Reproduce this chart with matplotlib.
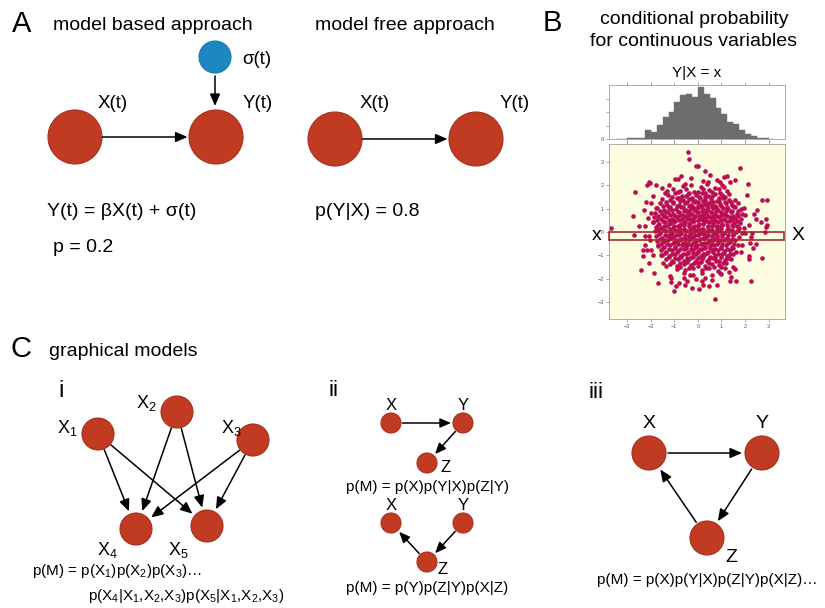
import matplotlib
matplotlib.use('Agg')
import matplotlib.pyplot as plt
from matplotlib.patches import Circle, Rectangle
import numpy as np

plt.rcParams['font.family'] = ['Liberation Sans', 'DejaVu Sans']
plt.rcParams['mathtext.fontset'] = 'custom'
plt.rcParams['mathtext.rm'] = 'Liberation Sans'
plt.rcParams['mathtext.it'] = 'Liberation Sans:italic'
plt.rcParams['mathtext.bf'] = 'Liberation Sans:bold'

# ---------------- data ----------------
# histogram (panel B): left bin edges and bar heights
hist_left = [-3.5, -3.25, -3.0, -2.75, -2.5, -2.25, -2.0, -1.75, -1.5, -1.25, -1.0,
             -0.75, -0.5, -0.25, 0.0, 0.25, 0.5, 0.75, 1.0, 1.25, 1.5, 1.75, 2.0,
             2.25, 2.5, 2.75, 3.0]
hist_height = [1, 1, 2, 3, 4, 27, 22, 42, 64, 79, 109, 129, 134, 125, 155, 134, 122,
               92, 74, 50, 45, 27, 15, 9, 2, 4, 1]
hist_bin_width = 0.25

# scatter (panel B): outer points
outer_x = [-0.44, -0.39, -0.09, 0.00, -0.74, -0.84, -2.66, -2.09, -2.02, -2.18, -1.80,
           -1.52, -1.23, -0.99, -1.42, -1.32, -2.20, -1.99, -1.77, -2.78, -2.49, -3.70,
           -2.27, -2.13, -1.92, 1.80, 1.23, 1.09, 0.80, 0.94, 1.37, 1.56, 2.13, 0.44,
           2.73, 2.95, 2.52, 2.37, 2.45, 1.94, 2.02, 2.16, 2.88, 2.88, 2.70, 2.95,
           -2.70, -2.23, -2.06, -2.27, -2.35, -2.18, -1.99, -1.92, -2.09, -2.35,
           -2.42, -1.85, -1.70, -1.20, -1.13, -0.94, -0.80, -1.03, -0.56, -0.46, -0.27,
           -1.49, -1.34, -1.56, -1.70, 0.73, 0.80, 0.61, 0.16, 0.23, 0.30, 0.99, 1.37,
           1.42, 1.62, 2.27, 1.30, 1.59, 1.47, 2.19, 2.16, 2.33, 2.45, 2.23, 2.02, 2.30,
           2.85, 1.85, 1.30, 1.87, 2.73, -0.30, 0.20, 0.50, -0.55, 0.30, -0.60, -0.10,
           0.45, -0.35, 0.05, -1.90, -2.30, -2.00, -2.05, 2.10, 2.25, -1.15, 1.10]
outer_y = [3.42, 3.15, 2.83, 2.83, 2.42, 2.28, 1.72, 2.14, 2.11, 2.00, 2.04,
           1.90, 2.04, 2.28, 1.68, 1.75, 1.30, 1.25, 1.04, 0.68, 0.28, 0.18,
           0.24, 0.61, 0.42, 2.75, 2.42, 2.37, 2.22, 2.14, 2.14, 2.25, 2.08, 2.14,
           1.39, 1.39, 0.94, 0.79, 0.57, 1.04, 0.75, 0.32, 0.22, 0.57, 0.42, 0.32,
           -0.11, -0.18, -0.15, -0.54, -0.75, -0.78, -0.78, -0.97, -1.32, -1.04,
           -1.61, -1.75, -2.18, -1.90, -1.97, -2.33, -2.18, -2.51, -2.25, -2.11, -2.40,
           -1.32, -1.47, -0.97, -0.61, -2.87, -2.25, -2.07, -2.11, -2.25, -1.97, -1.82, -2.11,
           -1.92, -2.11, -2.11, -1.72, -1.58, -1.49, -1.15, -1.04, -0.68, -0.49, -0.46, -0.04, -0.06,
           -0.01, -0.87, -1.11, -0.54, -1.11, 2.30, 2.20, 2.45, 2.05, 2.60, -1.95, -2.00,
           -2.30, -1.85, -2.45, 1.55, 0.95, 0.80, -0.35, 1.60, -0.20, -2.15, 1.95]

# scatter (panel B): dense core, read row by row
core_x = [
    -0.62, -0.28, 0.12, 0.38, 0.71, 1.02,
    -1.08, -0.77, -0.52, -0.18, 0.21, 0.47, 0.88, 1.22,
    -1.27, -0.98, -0.69, -0.41, -0.08, 0.17, 0.42, 0.73, 1.01, 1.33,
    -1.52, -1.19, -0.91, -0.63, -0.37, -0.12, 0.09, 0.31, 0.56, 0.79, 1.07, 1.31, 1.57,
    -1.63, -1.31, -1.04, -0.82, -0.56, -0.29, -0.11, 0.12, 0.29, 0.52, 0.71, 0.94, 1.21, 1.44, 1.72,
    -1.72, -1.43, -1.21, -0.94, -0.71, -0.49, -0.31, -0.09, 0.06, 0.26, 0.44, 0.66, 0.84, 1.06, 1.29, 1.56, 1.81,
    -1.81, -1.54, -1.29, -1.06, -0.84, -0.66, -0.44, -0.24, -0.06, 0.16, 0.34, 0.56, 0.74, 0.96, 1.14, 1.41, 1.64, 1.86,
    -1.86, -1.59, -1.36, -1.09, -0.91, -0.69, -0.51, -0.29, -0.11, 0.11, 0.29, 0.51, 0.69, 0.91, 1.09, 1.36, 1.59, 1.84,
    -1.91, -1.64, -1.41, -1.14, -0.96, -0.74, -0.56, -0.34, -0.16, 0.06, 0.24, 0.46, 0.64, 0.86, 1.04, 1.31, 1.54, 1.79,
    -1.79, -1.56, -1.31, -1.04, -0.86, -0.61, -0.39, -0.21, 0.01, 0.19, 0.41, 0.59, 0.81, 0.99, 1.26, 1.49, 1.76, 1.96,
    -1.84, -1.61, -1.34, -1.11, -0.89, -0.71, -0.49, -0.31, -0.09, 0.11, 0.31, 0.49, 0.71, 0.89, 1.11, 1.34, 1.61, 1.86,
    -1.78, -1.54, -1.29, -1.06, -0.79, -0.61, -0.39, -0.19, 0.01, 0.21, 0.39, 0.61, 0.79, 1.01, 1.24, 1.51, 1.74,
    -1.74, -1.49, -1.26, -0.99, -0.81, -0.54, -0.36, -0.14, 0.06, 0.24, 0.46, 0.64, 0.86, 1.09, 1.36, 1.59,
    -1.69, -1.46, -1.19, -0.96, -0.69, -0.51, -0.29, -0.11, 0.11, 0.29, 0.51, 0.69, 0.96, 1.19, 1.46, 1.69,
    -1.59, -1.36, -1.09, -0.86, -0.59, -0.41, -0.19, 0.01, 0.19, 0.41, 0.59, 0.86, 1.09, 1.36, 1.61,
    -1.51, -1.24, -0.99, -0.76, -0.49, -0.31, -0.09, 0.11, 0.29, 0.51, 0.74, 1.01, 1.24, 1.49,
    -1.36, -1.09, -0.86, -0.59, -0.36, -0.09, 0.16, 0.39, 0.66, 0.89, 1.16, 1.41,
    -1.19, -0.91, -0.59, -0.31, 0.01, 0.29, 0.61, 0.89, 1.21,
    -0.89, -0.56, -0.19, 0.16, 0.49, 0.86, 1.14,
    -0.61, -0.21, 0.19, 0.61, 0.94,
]
core_y = [
    1.96, 2.04, 1.93, 2.07, 1.91, 2.01,
    1.83, 1.76, 1.87, 1.74, 1.84, 1.79, 1.86, 1.75,
    1.61, 1.66, 1.55, 1.64, 1.57, 1.67, 1.54, 1.63, 1.58, 1.65,
    1.43, 1.36, 1.46, 1.37, 1.44, 1.35, 1.45, 1.38, 1.42, 1.34, 1.47, 1.39, 1.36,
    1.23, 1.17, 1.26, 1.15, 1.24, 1.18, 1.27, 1.16, 1.22, 1.25, 1.14, 1.21, 1.24, 1.17, 1.26,
    1.03, 0.96, 1.05, 0.98, 1.06, 0.95, 1.04, 0.97, 1.07, 0.94, 1.02, 1.05, 0.96, 1.04, 0.97, 1.06, 0.99,
    0.83, 0.76, 0.85, 0.77, 0.86, 0.75, 0.84, 0.78, 0.87, 0.74, 0.82, 0.85, 0.77, 0.84, 0.76, 0.86, 0.79, 0.78,
    0.63, 0.56, 0.65, 0.57, 0.66, 0.55, 0.64, 0.58, 0.67, 0.54, 0.62, 0.65, 0.57, 0.64, 0.56, 0.66, 0.59, 0.58,
    0.43, 0.36, 0.45, 0.37, 0.46, 0.35, 0.44, 0.38, 0.47, 0.34, 0.42, 0.45, 0.37, 0.44, 0.36, 0.46, 0.39, 0.38,
    0.23, 0.16, 0.25, 0.17, 0.26, 0.15, 0.24, 0.18, 0.27, 0.14, 0.22, 0.25, 0.17, 0.24, 0.16, 0.26, 0.19, 0.18,
    0.03, -0.04, 0.05, -0.03, 0.06, -0.05, 0.04, -0.02, 0.07, -0.06, 0.02, 0.05, -0.03, 0.04, -0.04, 0.06, -0.01, -0.02,
    -0.17, -0.24, -0.15, -0.23, -0.14, -0.25, -0.16, -0.22, -0.13, -0.26, -0.18, -0.15, -0.23, -0.16, -0.24, -0.14, -0.21,
    -0.37, -0.44, -0.35, -0.43, -0.34, -0.45, -0.36, -0.42, -0.33, -0.46, -0.38, -0.35, -0.43, -0.36, -0.44, -0.34,
    -0.57, -0.64, -0.55, -0.63, -0.54, -0.65, -0.56, -0.62, -0.53, -0.66, -0.58, -0.55, -0.63, -0.56, -0.64, -0.54,
    -0.77, -0.84, -0.75, -0.83, -0.74, -0.85, -0.76, -0.82, -0.73, -0.86, -0.78, -0.75, -0.83, -0.76, -0.84,
    -0.97, -1.04, -0.95, -1.03, -0.94, -1.05, -0.96, -1.02, -0.93, -1.06, -0.98, -0.95, -1.03, -0.96,
    -1.17, -1.24, -1.15, -1.23, -1.14, -1.25, -1.16, -1.22, -1.13, -1.26, -1.18, -1.15,
    -1.37, -1.44, -1.35, -1.43, -1.34, -1.45, -1.36, -1.42, -1.33,
    -1.57, -1.64, -1.55, -1.63, -1.54, -1.65, -1.56,
    -1.77, -1.84, -1.75, -1.83, -1.74,
]
# scatter (panel B): in-between rows of the dense centre
mid_x = [
    -0.85, -0.40, 0.00, 0.30, 0.60, 0.95,
    -1.10, -0.80, -0.50, -0.25, 0.03, 0.30, 0.58, 0.88, 1.15,
    -1.35, -1.05, -0.75, -0.47, -0.22, 0.02, 0.22, 0.43, 0.66, 0.90, 1.17, 1.42,
    -1.50, -1.18, -0.90, -0.62, -0.40, -0.20, 0.00, 0.19, 0.38, 0.58, 0.78, 1.00, 1.25, 1.50,
    -1.60, -1.35, -1.10, -0.82, -0.60, -0.38, -0.17, 0.00, 0.18, 0.37, 0.57, 0.77, 0.97, 1.20, 1.45, 1.70,
    -1.70, -1.45, -1.20, -0.98, -0.77, -0.57, -0.36, -0.16, 0.03, 0.22, 0.42, 0.62, 0.82, 1.02, 1.24, 1.48, 1.72,
    -1.72, -1.48, -1.24, -1.02, -0.82, -0.61, -0.41, -0.20, 0.00, 0.20, 0.39, 0.58, 0.78, 0.98, 1.20, 1.44, 1.68,
    -1.70, -1.46, -1.22, -1.00, -0.78, -0.58, -0.37, -0.17, 0.02, 0.22, 0.42, 0.62, 0.82, 1.02, 1.22, 1.45, 1.68,
    -1.70, -1.45, -1.20, -0.98, -0.77, -0.56, -0.35, -0.16, 0.03, 0.22, 0.41, 0.60, 0.80, 1.00, 1.22, 1.46, 1.70,
    -1.66, -1.42, -1.18, -0.95, -0.75, -0.55, -0.34, -0.14, 0.05, 0.25, 0.44, 0.63, 0.83, 1.04, 1.26, 1.50,
    -1.60, -1.38, -1.14, -0.92, -0.70, -0.50, -0.30, -0.10, 0.10, 0.30, 0.50, 0.72, 0.95, 1.18, 1.45,
    -1.55, -1.32, -1.08, -0.86, -0.63, -0.43, -0.22, -0.02, 0.18, 0.38, 0.58, 0.80, 1.03, 1.28, 1.52,
    -1.48, -1.22, -0.98, -0.76, -0.52, -0.30, -0.10, 0.10, 0.30, 0.50, 0.73, 0.98, 1.24, 1.50,
    -1.38, -1.12, -0.88, -0.64, -0.42, -0.20, 0.00, 0.20, 0.40, 0.62, 0.86, 1.12, 1.38,
    -1.25, -0.98, -0.72, -0.46, -0.22, 0.00, 0.22, 0.46, 0.72, 0.98, 1.25,
    -1.05, -0.75, -0.45, -0.15, 0.15, 0.45, 0.75, 1.05,
    -0.75, -0.38, 0.00, 0.33, 0.68, 1.00,
]
mid_y = [
    1.71, 1.68, 1.73, 1.69, 1.72, 1.67,
    1.51, 1.48, 1.53, 1.47, 1.52, 1.49, 1.54, 1.46, 1.50,
    1.31, 1.28, 1.33, 1.27, 1.32, 1.29, 1.34, 1.26, 1.30, 1.33, 1.28, 1.31,
    1.11, 1.08, 1.13, 1.07, 1.12, 1.09, 1.14, 1.06, 1.10, 1.13, 1.08, 1.11, 1.07, 1.12,
    0.91, 0.88, 0.93, 0.87, 0.92, 0.89, 0.94, 0.86, 0.90, 0.93, 0.88, 0.91, 0.87, 0.92, 0.89, 0.90,
    0.71, 0.68, 0.73, 0.67, 0.72, 0.69, 0.74, 0.66, 0.70, 0.73, 0.68, 0.71, 0.67, 0.72, 0.69, 0.70, 0.68,
    0.51, 0.48, 0.53, 0.47, 0.52, 0.49, 0.54, 0.46, 0.50, 0.53, 0.48, 0.51, 0.47, 0.52, 0.49, 0.50, 0.48,
    0.31, 0.28, 0.33, 0.27, 0.32, 0.29, 0.34, 0.26, 0.30, 0.33, 0.28, 0.31, 0.27, 0.32, 0.29, 0.30, 0.28,
    0.11, 0.08, 0.13, 0.07, 0.12, 0.09, 0.14, 0.06, 0.10, 0.13, 0.08, 0.11, 0.07, 0.12, 0.09, 0.10, 0.08,
    -0.09, -0.12, -0.07, -0.13, -0.08, -0.11, -0.06, -0.14, -0.10, -0.07, -0.12, -0.09, -0.13, -0.08, -0.11, -0.10,
    -0.29, -0.32, -0.27, -0.33, -0.28, -0.31, -0.26, -0.34, -0.30, -0.27, -0.32, -0.29, -0.33, -0.28, -0.31,
    -0.49, -0.52, -0.47, -0.53, -0.48, -0.51, -0.46, -0.54, -0.50, -0.47, -0.52, -0.49, -0.53, -0.48, -0.51,
    -0.69, -0.72, -0.67, -0.73, -0.68, -0.71, -0.66, -0.74, -0.70, -0.67, -0.72, -0.69, -0.73, -0.68,
    -0.89, -0.92, -0.87, -0.93, -0.88, -0.91, -0.86, -0.94, -0.90, -0.87, -0.92, -0.89, -0.93,
    -1.09, -1.12, -1.07, -1.13, -1.08, -1.11, -1.06, -1.14, -1.10, -1.07, -1.12,
    -1.29, -1.32, -1.27, -1.33, -1.28, -1.31, -1.26, -1.34,
    -1.49, -1.52, -1.47, -1.53, -1.48, -1.51,
]
scatter_ticks = [-3, -2, -1, 0, 1, 2, 3]
slice_y = (-0.35, 0.02)   # conditioning band Y|X = x

# diagram graphs: node names and edges
graph_A_nodes = ['X(t)', 'Y(t)']
graph_A_free_nodes = ['X(t)', 'Y(t)']
graph_i_nodes = ['X1', 'X2', 'X3', 'X4', 'X5']
graph_i_edges = [('X1', 'X4'), ('X1', 'X5'), ('X2', 'X4'), ('X2', 'X5'), ('X3', 'X4'), ('X3', 'X5')]
graph_ii_top_edges = [('X', 'Y'), ('Y', 'Z')]
graph_ii_bot_edges = [('Z', 'X'), ('Y', 'Z')]
graph_iii_edges = [('X', 'Y'), ('Y', 'Z'), ('Z', 'X')]

RED = '#c13a22'
RED_EDGE = '#a8301c'
BLUE = '#1d87c1'

# ---------------- figure ----------------
W, H = 825, 608
fig = plt.figure(figsize=(W / 100, H / 100), dpi=100)
ax = fig.add_axes([0, 0, 1, 1])
ax.set_xlim(0, W)
ax.set_ylim(H, 0)
ax.axis('off')


def node(x, y, r, color=RED, ec=RED_EDGE):
    ax.add_patch(Circle((x, y), r, facecolor=color, edgecolor=ec, lw=0.8, zorder=2))


def arrow(p0, p1, ms=11):
    ax.annotate('', xy=p1, xytext=p0,
                arrowprops=dict(arrowstyle='-|>,head_length=0.65,head_width=0.28',
                                color='black', lw=1.1, shrinkA=0, shrinkB=0,
                                mutation_scale=ms), zorder=3)


def edge(c0, r0, c1, r1, gap0=1.0, gap1=2.5, ms=11):
    c0 = np.array(c0, float)
    c1 = np.array(c1, float)
    u = (c1 - c0) / np.hypot(*(c1 - c0))
    arrow(c0 + u * (r0 + gap0), c1 - u * (r1 + gap1), ms)


def txt(x, y, s, size, ha='left', va='center', **kw):
    ax.text(x, y, s, fontsize=size, ha=ha, va=va, **kw)


# ---- Panel A ----
txt(12, 24, 'A', 21)
txt(53, 25, 'model based approach', 14)
txt(315, 25, 'model free approach', 14)

posA = {'X(t)': (75, 137), 'Y(t)': (216, 137)}
rA = 27
for n in graph_A_nodes:
    node(*posA[n], rA)
edge(posA['X(t)'], rA, posA['Y(t)'], rA, 0.5, 1.5)
node(215, 57, 16, BLUE, '#1a78aa')
arrow((215, 76), (215, 106))
txt(113, 103, 'X(t)', 13.5, ha='center')
txt(258, 103, 'Y(t)', 13.5, ha='center')
txt(242, 60, 'σ(t)', 13.5)
txt(47, 211, 'Y(t) = βX(t) + σ(t)', 14)
txt(53, 248, 'p = 0.2', 14)

posF = {'X(t)': (335, 139), 'Y(t)': (476, 139)}
for n in graph_A_free_nodes:
    node(*posF[n], rA)
edge(posF['X(t)'], rA, posF['Y(t)'], rA, 0.5, 1.5)
txt(375, 103, 'X(t)', 13.5, ha='center')
txt(515, 103, 'Y(t)', 13.5, ha='center')
txt(315, 211, 'p(Y|X) = 0.8', 14)

# ---- Panel B ----
txt(543, 23, 'B', 21)
txt(694, 19, 'conditional probability', 14, ha='center')
txt(694, 42, 'for continuous variables', 14, ha='center')
txt(697, 73, 'Y|X = x', 11, ha='center')
txt(597, 236, 'x', 14, ha='center')
txt(798, 236, 'X', 14, ha='center')

xl = (-3.78, 3.70)
axh = fig.add_axes([609 / W, 1 - 139 / H, 176 / W, 54 / H])
axh.bar(hist_left, hist_height, width=hist_bin_width, align='edge', color='#6d6d6d',
        edgecolor='#6d6d6d', lw=0.3)
axh.set_xlim(*xl)
axh.set_ylim(0, 160)
axh.set_xticks(scatter_ticks)
axh.set_xticklabels([])
axh.set_yticks([0, 40, 80, 120])
axh.set_yticklabels(['0', '', '', ''])

axs = fig.add_axes([609 / W, 1 - 319 / H, 176 / W, 175 / H])
axs.set_facecolor('#fdfde1')
axs.scatter(outer_x + core_x + mid_x, outer_y + core_y + mid_y, s=11,
            color='#bb0c55', lw=0, zorder=2)
axs.add_patch(Rectangle((xl[0] + 0.02, slice_y[0]), 3.63 - xl[0], slice_y[1] - slice_y[0],
                        fill=False, edgecolor='#a52a2a', lw=1.2, zorder=3, clip_on=False))
axs.set_xlim(*xl)
axs.set_ylim(-3.73, 3.78)
axs.set_xticks(scatter_ticks)
axs.set_yticks(scatter_ticks)

for a in (axh, axs):
    for sp in a.spines.values():
        sp.set_color('#a0a0a0')
        sp.set_linewidth(0.6)
    a.tick_params(labelsize=4, colors='#888888', length=2, width=0.5, pad=1.5,
                  top=True, right=False, labelcolor='#555555')

# ---- Panel C ----
txt(11, 349, 'C', 21)
txt(49, 351, 'graphical models', 14)

# i
txt(58, 391, 'i', 17)
pos_i = {'X1': (98, 434), 'X2': (177, 412), 'X3': (253, 440), 'X4': (136, 529), 'X5': (207, 526)}
lab_i = {'X1': (67, 428), 'X2': (146, 403), 'X3': (231, 428), 'X4': (107, 550), 'X5': (178, 550)}
r_i = 16
for n in graph_i_nodes:
    node(*pos_i[n], r_i)
    txt(*lab_i[n], r'X$_{%s}$' % n[1], 13, ha='center')
for a_, b_ in graph_i_edges:
    edge(pos_i[a_], r_i, pos_i[b_], r_i, 1.0, 3.0)
txt(32, 571, r'p(M) = p(X$_1$)p(X$_2$)p(X$_3$)…', 11)
txt(88, 596, r'p(X$_4$|X$_1$,X$_2$,X$_3$)p(X$_5$|X$_1$,X$_2$,X$_3$)', 11)

# ii
txt(329, 390, 'ii', 16)
r_ii = 10
pos_ii_top = {'X': (391, 423), 'Y': (463, 423), 'Z': (427, 463)}
pos_ii_bot = {'X': (391, 523), 'Y': (463, 523), 'Z': (427, 562)}
for pos, edges in ((pos_ii_top, graph_ii_top_edges), (pos_ii_bot, graph_ii_bot_edges)):
    for n, p in pos.items():
        node(*p, r_ii)
    for a_, b_ in edges:
        edge(pos[a_], r_ii, pos[b_], r_ii, 1.5, 2.0, ms=10)
txt(391, 405, 'X', 12, ha='center')
txt(463, 405, 'Y', 12, ha='center')
txt(446, 467, 'Z', 12, ha='center')
txt(391, 505, 'X', 12, ha='center')
txt(463, 505, 'Y', 12, ha='center')
txt(443, 569, 'Z', 12, ha='center')
txt(427, 487, 'p(M) = p(X)p(Y|X)p(Z|Y)', 11, ha='center')
txt(427, 588, 'p(M) = p(Y)p(Z|Y)p(X|Z)', 11, ha='center')

# iii
txt(588, 392, 'iii', 16)
r_iii = 17
pos_iii = {'X': (649, 453), 'Y': (762, 453), 'Z': (707, 538)}
for n, p in pos_iii.items():
    node(*p, r_iii)
for a_, b_ in graph_iii_edges:
    edge(pos_iii[a_], r_iii, pos_iii[b_], r_iii, 2.0, 3.0)
txt(649, 423, 'X', 14, ha='center')
txt(762, 423, 'Y', 14, ha='center')
txt(731, 557, 'Z', 14, ha='center')
txt(707, 580, 'p(M) = p(X)p(Y|X)p(Z|Y)p(X|Z)…', 11, ha='center')

fig.savefig('out.png', dpi=100)
